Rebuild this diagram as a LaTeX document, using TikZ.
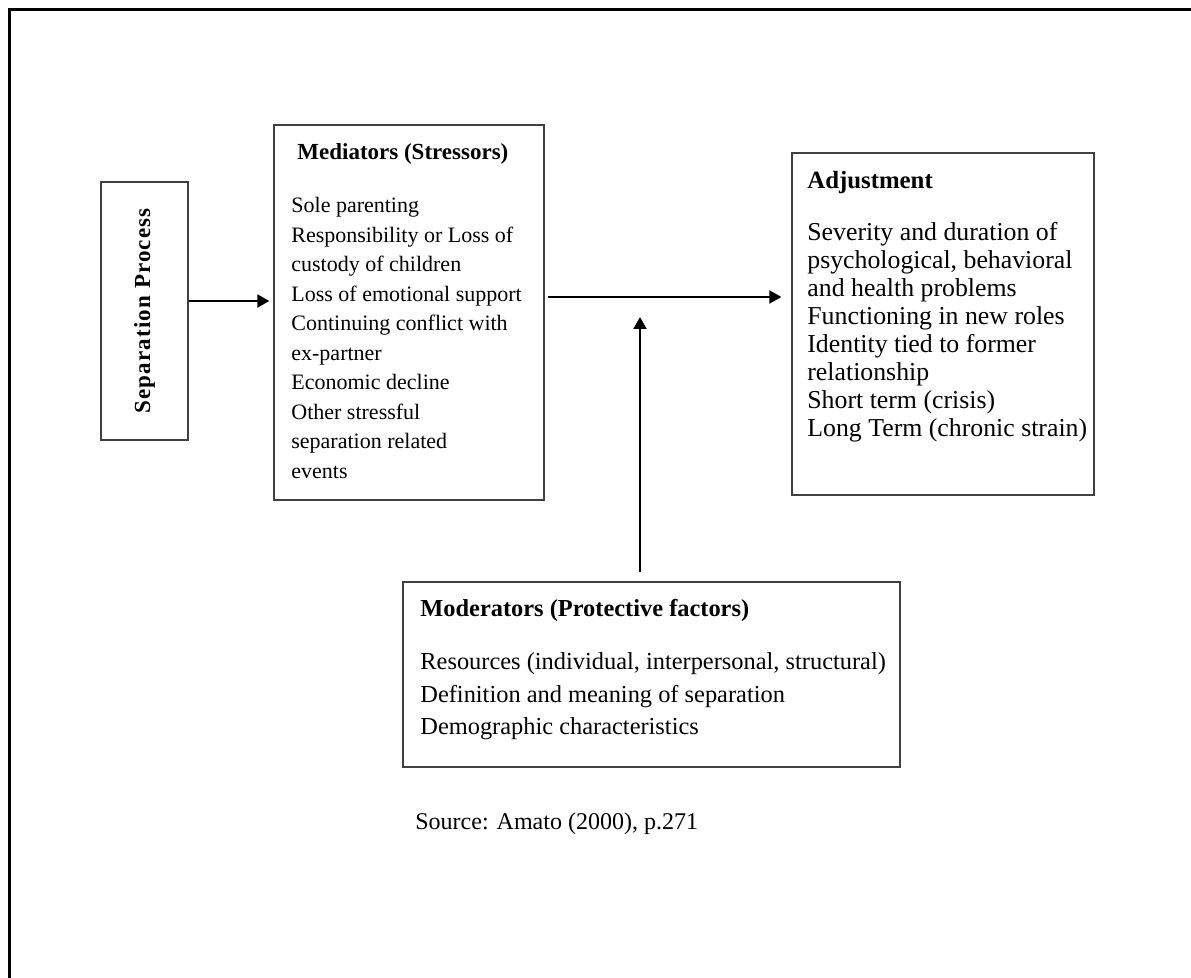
\documentclass[tikz,border=0pt]{standalone}
\usepackage{fontspec}
\setmainfont{Liberation Serif}
\usepackage{graphicx}
\usetikzlibrary{arrows.meta}
\begin{document}
\begin{tikzpicture}[x=0.5pt,y=-0.5pt,
  box/.style={draw=black!75, line width=0.65pt, inner sep=0pt},
  arr/.style={line width=1pt, -{Triangle[length=6pt,width=6.5pt]}},
  txt/.style={anchor=base west, inner sep=0pt}]
\useasboundingbox (0,0) rectangle (1191,978);
\draw[line width=1.5pt] (9.5,978) -- (9.5,10) -- (1191,10);
% Separation process
\node[box, minimum width=43.5pt, minimum height=129pt] (sep) at (144.5,311)
  {\rotatebox{90}{\fontsize{11.5}{13}\selectfont\bfseries\addfontfeatures{LetterSpace=5}Separation Process}};
% Mediators
\node[box, minimum width=135pt, minimum height=187.5pt] (med) at (409,312.5) {};
\node[txt] (medT) at (297,160) {\fontsize{11.5}{14}\selectfont\bfseries Mediators (Stressors)};
\node[txt] (medL) at (291,213) {\parbox[t]{130pt}{\fontsize{11}{14.75}\selectfont
  Sole parenting\\
  Responsibility or Loss of\\
  custody of children\\
  Loss of emotional support\\
  Continuing conflict with\\
  ex-partner\\
  Economic decline\\
  Other stressful\\
  separation related\\
  events}};
% Adjustment
\node[box, minimum width=151pt, minimum height=171pt] (adj) at (943,324) {};
\node[txt] (adjT) at (807,189) {\fontsize{12.4}{14}\selectfont\bfseries Adjustment};
\node[txt] (adjL) at (807,241) {\parbox[t]{150pt}{\fontsize{12.9}{14}\selectfont
  Severity and duration of\\
  psychological, behavioral\\
  and health problems\\
  Functioning in new roles\\
  Identity tied to former\\
  relationship\\
  Short term (crisis)\\
  Long Term (chronic strain)}};
% Moderators
\node[box, minimum width=248.5pt, minimum height=92.5pt] (mod) at (651.5,674.5) {};
\node[txt] (modT) at (420,617) {\fontsize{12.2}{14}\selectfont\bfseries Moderators (Protective factors)};
\node[txt] (modL) at (420,670) {\parbox[t]{240pt}{\fontsize{12.2}{16.25}\selectfont
  Resources (individual, interpersonal, structural)\\
  Definition and meaning of separation\\
  Demographic characteristics}};
% Source
\node[txt] (src) at (415,830) {\fontsize{12}{14}\selectfont Source: Amato (2000), p.271};
% Connectors
\draw[arr, shorten >=2pt] (sep.east |- 0,301) -- (med.west |- 0,301);
\draw[arr, shorten <=1.5pt, shorten >=5pt] (med.east |- 0,297) -- (adj.west |- 0,297);
\coordinate (vtip) at (640,317);
\draw[arr, shorten <=4.5pt] (mod.north -| vtip) -- (vtip);
\end{tikzpicture}
\end{document}
